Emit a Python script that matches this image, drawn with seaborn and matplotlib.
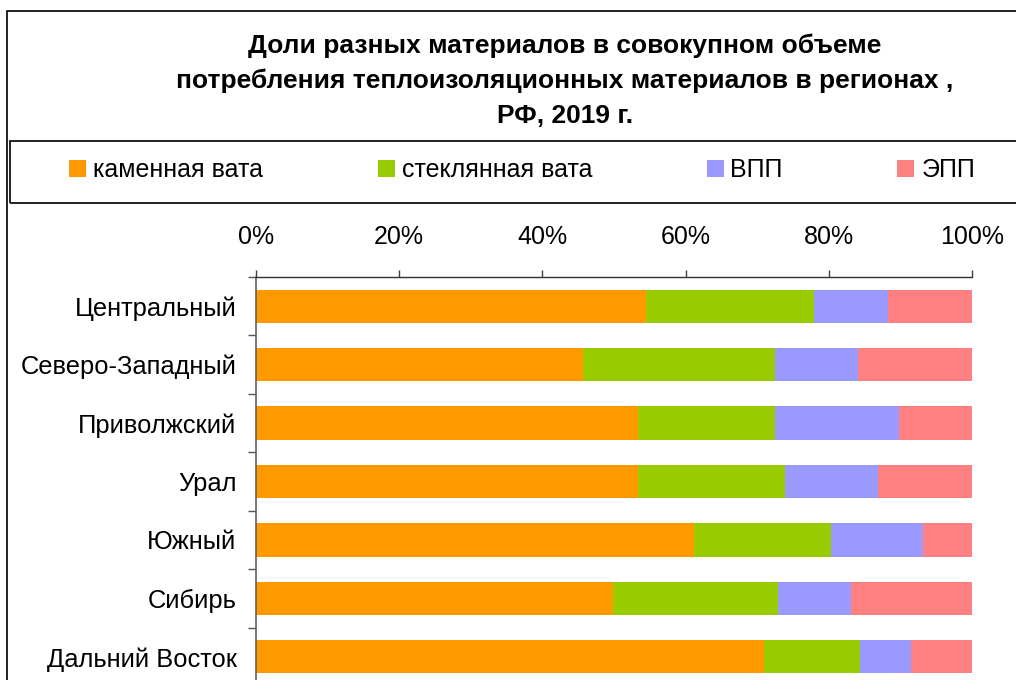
import matplotlib
matplotlib.use("Agg")
import matplotlib.pyplot as plt
from matplotlib.patches import Patch, Rectangle
import seaborn as sns
import numpy as np
import pandas as pd

regions = ["Центральный", "Северо-Западный", "Приволжский", "Урал",
           "Южный", "Сибирь", "Дальний Восток"]
kamen = [54.4, 45.7, 53.4, 53.3, 61.2, 49.9, 70.9]   # каменная вата
steklo = [23.5, 26.8, 19.1, 20.6, 19.1, 23.0, 13.4]  # стеклянная вата
vpp = [10.3, 11.6, 17.3, 13.0, 12.9, 10.2, 7.2]      # ВПП
epp = [11.8, 15.9, 10.2, 13.1, 6.8, 16.9, 8.5]       # ЭПП

series_names = ["каменная вата", "стеклянная вата", "ВПП", "ЭПП"]
colors = ["#FF9900", "#99CC00", "#9999FF", "#FF8080"]

sns.set_theme(style="white")
plt.rcParams['font.family'] = ['Liberation Sans', 'DejaVu Sans']
plt.rcParams['text.color'] = 'black'

df = pd.DataFrame({"region": regions, "kamen": kamen, "steklo": steklo,
                   "vpp": vpp, "epp": epp})
cols = ["kamen", "steklo", "vpp", "epp"]
cum = df[cols].cumsum(axis=1)

fig = plt.figure(figsize=(10.16, 6.8), dpi=100)
ax = fig.add_axes([256/1016, 1 - 686/680, 716/1016, 409/680])

# stacked bars: draw cumulative totals from the back
for c, col in reversed(list(zip(colors, cols))):
    sns.barplot(x=cum[col], y=df["region"], color=c, width=0.57,
                orient="h", ax=ax, saturation=1, linewidth=0)

FS = 18
ax.set_xlim(0, 100)
ax.set_ylim(6.5, -0.5)
ax.set_xlabel("")
ax.set_ylabel("")
ax.xaxis.tick_top()
ax.set_xticks([0, 20, 40, 60, 80, 100])
ax.set_xticklabels([f"{v}%" for v in [0, 20, 40, 60, 80, 100]])
ax.tick_params(axis="x", top=True, bottom=False, length=5, width=1,
               color="#404040", direction="out", pad=15, labelsize=FS,
               labelcolor="black")
ax.set_yticks(range(len(regions)))
ax.set_yticklabels(regions)
ax.set_yticks(np.arange(-0.5, len(regions), 1), minor=True)
ax.tick_params(axis="y", which="major", length=0, pad=14, labelsize=18.4,
               labelcolor="black")
ax.tick_params(axis="y", which="minor", left=True, length=6, width=1,
               color="#555555", direction="out")

for s in ["right", "bottom"]:
    ax.spines[s].set_visible(False)
ax.spines["top"].set_color("#303030")
ax.spines["top"].set_linewidth(1)
ax.spines["left"].set_color("#606060")
ax.spines["left"].set_linewidth(1.2)

# title
title_lines = ["Доли разных материалов в совокупном объеме",
               "потребления теплоизоляционных материалов в регионах ,",
               "РФ, 2019 г."]
for i, line in enumerate(title_lines):
    fig.text(565/1016, 1 - (46 + 35*i)/680, line, ha="center", va="center",
             fontsize=19, fontweight="bold", color="black")

# outer frame and legend box
fig.patches.append(Rectangle((7/1016, -0.05), 1.1, 1 - 11/680 + 0.05,
                             transform=fig.transFigure, fill=False,
                             edgecolor="black", linewidth=1.2))
fig.patches.append(Rectangle((9.5/1016, 1 - 203/680), 1.1, 62/680,
                             transform=fig.transFigure, fill=False,
                             edgecolor="black", linewidth=1.2))

handles = [Patch(facecolor=c, edgecolor="none") for c in colors]
fig.legend(handles, series_names, ncol=4, loc="center left",
           bbox_to_anchor=(69/1016, 1 - 170/680), frameon=False,
           fontsize=FS, handlelength=0.68, handleheight=0.68,
           handletextpad=0.28, columnspacing=4.58, borderaxespad=0,
           borderpad=0, labelcolor="black")

fig.savefig("out.png", dpi=100)
